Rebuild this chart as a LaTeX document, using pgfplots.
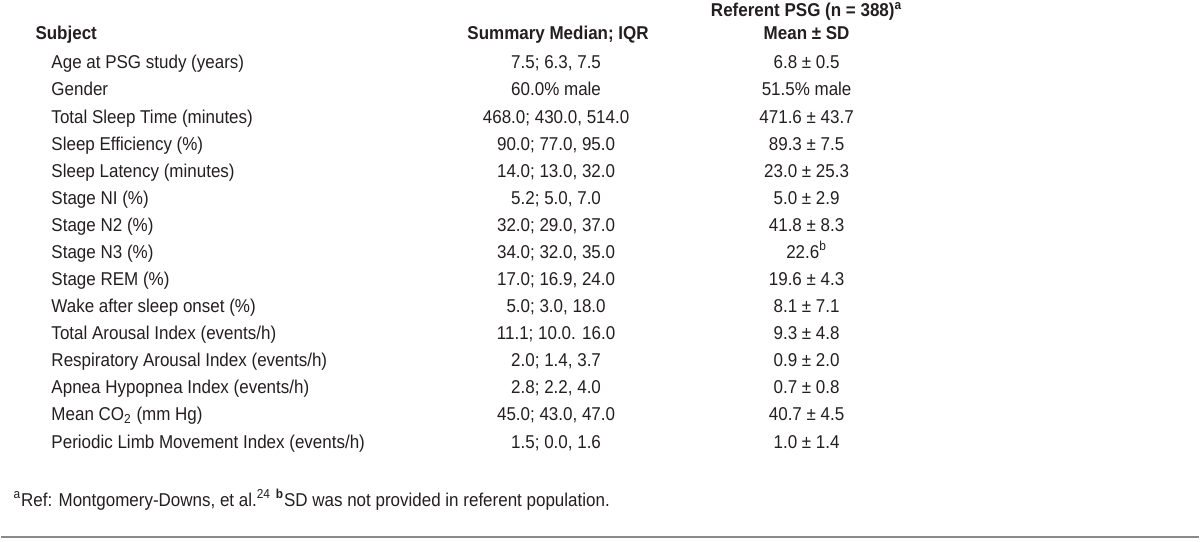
\documentclass[border=0pt]{standalone}
\usepackage{pgfplots}
\pgfplotsset{compat=1.18}
\usepackage{fontspec}
\setmainfont{Liberation Sans}[FakeStretch=0.915]
\definecolor{txt}{HTML}{231F20}
\definecolor{rule}{HTML}{8A8A8A}
\newcommand{\fs}{\fontsize{9.3}{11}\selectfont}
\newcommand{\row}[4]{%
  \node[anchor=base west] at (axis cs:50,#1) {#2};
  \node[anchor=base] at (axis cs:556,#1) {#3};
  \node[anchor=base] at (axis cs:807,#1) {#4};}
\begin{document}
\begin{tikzpicture}
\begin{axis}[
  width=600pt, height=271.5pt, scale only axis,
  xmin=0, xmax=1200, ymin=0, ymax=543, y dir=reverse,
  hide axis, clip=false,
]
\path (axis cs:0,0) rectangle (axis cs:1200,543);
\tikzset{every node/.style={inner sep=0pt, text=txt, font=\fs}}
% headers
\node[anchor=base west, font=\fs\bfseries] at (axis cs:34,40) {Subject};
\node[anchor=base, font=\fs\bfseries] at (axis cs:558,40) {Summary Median; IQR};
\node[anchor=base, font=\fs\bfseries] at (axis cs:807,17) {Referent PSG (n = 388)\textsuperscript{a}};
\node[anchor=base, font=\fs\bfseries] at (axis cs:807,40) {Mean ± SD};
% rows
\row{69}{Age at PSG study (years)}{7.5; 6.3, 7.5}{6.8 ± 0.5}
\row{96.14}{Gender}{60.0\% male}{51.5\% male}
\row{123.28}{Total Sleep Time (minutes)}{468.0; 430.0, 514.0}{471.6 ± 43.7}
\row{150.42}{Sleep Efficiency (\%)}{90.0; 77.0, 95.0}{89.3 ± 7.5}
\row{177.56}{Sleep Latency (minutes)}{14.0; 13.0, 32.0}{23.0 ± 25.3}
\row{204.7}{Stage NI (\%)}{5.2; 5.0, 7.0}{5.0 ± 2.9}
\row{231.84}{Stage N2 (\%)}{32.0; 29.0, 37.0}{41.8 ± 8.3}
\row{258.98}{Stage N3 (\%)}{34.0; 32.0, 35.0}{22.6\textsuperscript{b}}
\row{286.12}{Stage REM (\%)}{17.0; 16.9, 24.0}{19.6 ± 4.3}
\row{313.26}{Wake after sleep onset (\%)}{5.0; 3.0, 18.0}{8.1 ± 7.1}
\row{340.4}{Total Arousal Index (events/h)}{11.1; 10.0. 16.0}{9.3 ± 4.8}
\row{367.54}{Respiratory Arousal Index (events/h)}{2.0; 1.4, 3.7}{0.9 ± 2.0}
\row{394.68}{Apnea Hypopnea Index (events/h)}{2.8; 2.2, 4.0}{0.7 ± 0.8}
\row{421.82}{Mean CO\textsubscript{2} (mm Hg)}{45.0; 43.0, 47.0}{40.7 ± 4.5}
\row{448.96}{Periodic Limb Movement Index (events/h)}{1.5; 0.0, 1.6}{1.0 ± 1.4}
\node[anchor=base west] at (axis cs:12,507) {\textsuperscript{a}Ref: Montgomery-Downs, et al.\textsuperscript{24} \textsuperscript{\bfseries b}SD was not provided in referent population.};
\draw[rule, line width=1.2pt] (axis cs:0,538) -- (axis cs:1200,538);
\end{axis}
\end{tikzpicture}
\end{document}
